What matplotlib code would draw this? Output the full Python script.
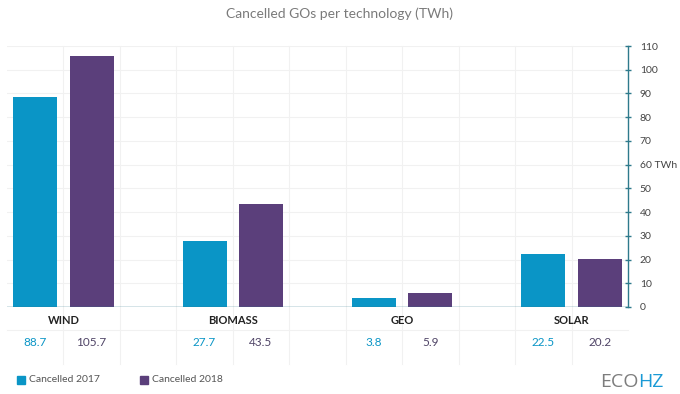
import matplotlib.pyplot as plt
from matplotlib.patches import Rectangle

# data
categories = ['WIND', 'BIOMASS', 'GEO', 'SOLAR']
cancelled_2017 = [88.7, 27.7, 3.8, 22.5]
cancelled_2018 = [105.7, 43.5, 5.9, 20.2]
series_labels = ['Cancelled 2017', 'Cancelled 2018']
y_ticks = [0, 10, 20, 30, 40, 50, 60, 70, 80, 90, 100, 110]

BLUE = '#0a95c6'
PURPLE = '#5b3f7b'
AXIS = '#2e7a8c'
GRID = '#f1f1f1'
TEXT = '#444444'

plt.rcParams['font.family'] = ['Lato', 'DejaVu Sans']

fig = plt.figure(figsize=(6.8, 3.94), dpi=100)
ax = fig.add_axes([7 / 680, 87 / 394, 621 / 680, 261 / 394])

width = 0.78
x17 = [i * 3 + 0.5 for i in range(len(categories))]
x18 = [i * 3 + 1.5 for i in range(len(categories))]
ax.bar(x17, cancelled_2017, width=width, color=BLUE, zorder=3)
ax.bar(x18, cancelled_2018, width=width, color=PURPLE, zorder=3)

ax.set_xlim(0, 11)
ax.set_ylim(0, 110)

# grid
for v in y_ticks[1:]:
    ax.axhline(v, color=GRID, lw=0.8, zorder=1)
for c in range(1, 11):
    ax.plot([c, c], [-0.22, 1], transform=ax.get_xaxis_transform(),
            color=GRID, lw=0.8, zorder=1, clip_on=False)
ax.plot([0, 11], [-0.09, -0.09], transform=ax.get_xaxis_transform(),
        color=GRID, lw=0.8, clip_on=False)
ax.axhline(0, color=AXIS, lw=1.0, zorder=4)

# axis on the right
for s in ['left', 'top', 'bottom']:
    ax.spines[s].set_visible(False)
ax.spines['right'].set_color(AXIS)
ax.spines['right'].set_linewidth(1.0)
ax.spines['right'].set_bounds(0, 110)
ax.yaxis.tick_right()
ax.set_yticks(y_ticks)
ax.set_yticklabels([('%d TWh' % t) if t == 60 else str(t) for t in y_ticks])
ax.tick_params(axis='y', direction='inout', length=5, width=1.0,
               color=AXIS, labelsize=7.5, labelcolor=TEXT, pad=6)
ax.set_xticks([])

# table under bars
tr = ax.get_xaxis_transform()
for i, cat in enumerate(categories):
    ax.text(i * 3 + 1, -0.05, cat, transform=tr, ha='center', va='center',
            fontsize=8, fontweight='bold', color='#222222')
    ax.text(x17[i], -0.135, '%.1f' % cancelled_2017[i], transform=tr,
            ha='center', va='center', fontsize=8.5, color=BLUE)
    ax.text(x18[i], -0.135, '%.1f' % cancelled_2018[i], transform=tr,
            ha='center', va='center', fontsize=8.5, color='#4f4466')

# title
fig.text(0.5, 1 - 14 / 394, 'Cancelled GOs per technology (TWh)',
         ha='center', va='center', fontsize=10, color='#7a7a7a')

# legend
for lx, col, lab in [(17, BLUE, series_labels[0]), (140, PURPLE, series_labels[1])]:
    fig.patches.append(Rectangle((lx / 680, 1 - 384 / 394), 8 / 680, 8 / 394,
                                 transform=fig.transFigure, color=col))
    fig.text((lx + 12) / 680, 1 - 380 / 394, lab, ha='left', va='center',
             fontsize=7.5, color='#555555')

# logo
eco = fig.text(600 / 680, 1 - 382 / 394, 'ECO', ha='left', va='center',
               fontsize=14, color='#7d7d7d', family='Open Sans')
fig.canvas.draw()
bb = eco.get_window_extent().transformed(fig.transFigure.inverted())
fig.text(bb.x1, 1 - 382 / 394, 'HZ', ha='left', va='center',
         fontsize=14, color='#1a9ad6', family='Open Sans')

fig.savefig('out.png', dpi=100)
